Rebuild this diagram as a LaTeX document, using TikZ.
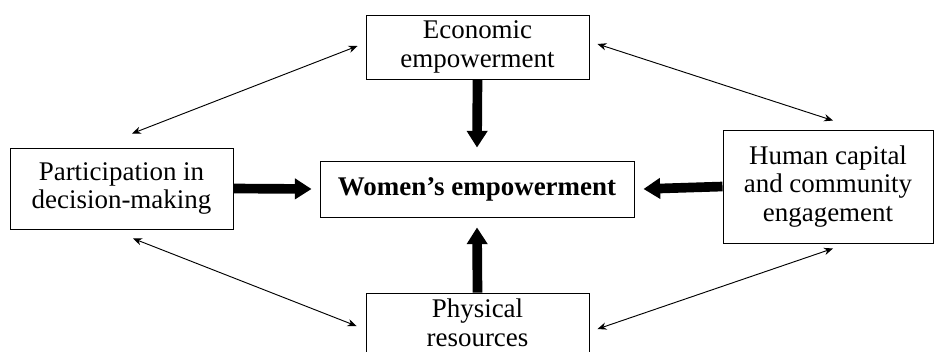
\documentclass[tikz,border=0pt]{standalone}
\usepackage{fontspec}
\setmainfont{Liberation Serif}
\usetikzlibrary{arrows.meta,positioning}

\begin{document}
\begin{tikzpicture}[x=0.03cm,y=-0.03cm,
  box/.style={draw, line width=0.8pt, align=center, inner sep=2pt,
    font=\fontsize{23}{24.5}\selectfont},
  bigarrow/.style={line width=0.29cm, -{Triangle[length=0.5cm,width=0.6cm]}},
  link/.style={line width=0.8pt,
    {Stealth[length=0.27cm,width=0.22cm]}-{Stealth[length=0.27cm,width=0.22cm]}}]
\useasboundingbox (0,0) rectangle (934,351);
% Boxes
\node[box, minimum width=6.69cm, minimum height=1.92cm] (econ) at (477.5,47) {Economic\\empowerment};
\node[box, minimum width=6.69cm, minimum height=2.43cm] (part) at (121.5,188.5) {Participation in\\decision-making};
\node[box, minimum width=9.42cm, minimum height=1.68cm, font=\fontsize{23}{24.5}\selectfont\bfseries] (women) at (477,189) {Women's empowerment};
\node[box, minimum width=6.3cm, minimum height=3.39cm] (human) at (828,186.5) {Human capital\\and community\\engagement};
\node[box, minimum width=6.69cm, minimum height=1.8cm] (phys) at (477.5,323) {Physical\\resources};
% Thick arrows into the centre
\draw[bigarrow] (econ.south) -- ([shift={(0,-13)}]women.north);
\draw[bigarrow] (part.east) -- ([shift={(-8,0)}]women.west);
\draw[bigarrow] (human.west) -- ([shift={(9,0)}]women.east);
\draw[bigarrow] (phys.north) -- ([shift={(0,10)}]women.south);
% Ends of the two-way links
\coordinate (pe1) at ([shift={(10.5,-14)}]part.north);
\coordinate (pe2) at ([shift={(-8,-1)}]econ.west);
\coordinate (eh1) at ([shift={(8,-3)}]econ.east);
\coordinate (eh2) at ([shift={(5,-9)}]human.north);
\coordinate (pp1) at ([shift={(11.5,9)}]part.south);
\coordinate (pp2) at ([shift={(-9,3)}]phys.west);
\coordinate (ph1) at ([shift={(8,6)}]phys.east);
\coordinate (ph2) at ([shift={(5,5)}]human.south);
% Two-way links
\draw[link] (pe1) -- (pe2);
\draw[link] (eh1) -- (eh2);
\draw[link] (pp1) -- (pp2);
\draw[link] (ph1) -- (ph2);
\end{tikzpicture}
\end{document}
